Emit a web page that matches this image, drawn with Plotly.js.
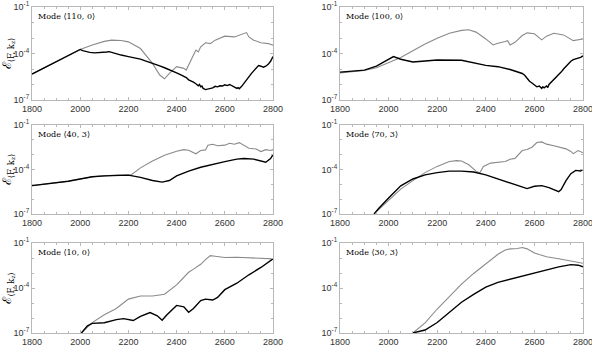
<!DOCTYPE html>
<html><head><meta charset="utf-8">
<script src="https://cdn.plot.ly/plotly-3.0.1.min.js"></script>
<style>html,body{margin:0;padding:0;background:#fff}#chart{width:592px;height:352px}</style>
</head><body><div id="chart"></div>
<script>
// Panel titles
const modes = ['Mode ⟨110, 0⟩','Mode ⟨100, 0⟩','Mode ⟨40, 3⟩','Mode ⟨70, 3⟩','Mode ⟨10, 0⟩','Mode ⟨30, 3⟩'];
// Values are log10 of the energy
const p1GrayX = [1800,1900,2000,2050,2100,2130,2170,2200,2250,2300,2330,2350,2370,2400,2430,2440,2460,2480,2490,2500,2520,2540,2560,2600,2640,2680,2690,2700,2720,2750,2780,2800];
const p1GrayY = [-5.33,-4.53,-3.74,-3.45,-3.22,-3.14,-3.16,-3.25,-3.68,-4.64,-5.39,-5.63,-5.28,-4.85,-4.96,-5.07,-4.43,-3.78,-3.9,-3.57,-3.31,-3.36,-3.14,-2.88,-2.93,-2.71,-2.65,-2.93,-3.14,-3.31,-3.36,-3.46];
const p1BlackX = [1800,1900,2000,2010,2020,2040,2060,2080,2100,2110,2120,2130,2150,2170,2200,2230,2250,2270,2300,2330,2350,2380,2400,2420,2440,2450,2460,2470,2480,2490,2495,2500,2505,2510,2520,2530,2540,2550,2560,2570,2580,2590,2600,2610,2620,2630,2640,2650,2655,2660,2670,2680,2690,2700,2710,2720,2730,2740,2750,2760,2770,2780,2790,2800];
const p1BlackY = [-5.33,-4.53,-3.74,-3.82,-3.86,-3.93,-3.96,-3.95,-3.93,-3.9,-3.88,-3.93,-4.0,-4.1,-4.2,-4.28,-4.36,-4.48,-4.62,-4.8,-4.92,-5.1,-5.25,-5.4,-5.55,-5.7,-5.75,-5.85,-5.95,-6.08,-6.0,-6.15,-6.1,-6.25,-6.33,-6.3,-6.25,-6.22,-6.12,-6.15,-6.08,-6.1,-6.02,-6.07,-6.0,-6.1,-6.18,-6.25,-6.2,-6.28,-6.12,-5.9,-5.7,-5.5,-5.3,-5.12,-4.95,-4.78,-4.82,-4.88,-4.82,-4.7,-4.5,-4.2];
const p2GrayX = [1800,1900,1950,2000,2050,2100,2150,2200,2250,2300,2330,2360,2400,2430,2450,2480,2490,2500,2520,2550,2570,2600,2630,2650,2680,2720,2760,2800];
const p2GrayY = [-5.25,-5.1,-4.92,-4.59,-4.26,-3.82,-3.39,-3.02,-2.69,-2.51,-2.47,-2.62,-3.06,-3.45,-3.34,-3.23,-3.17,-3.45,-3.28,-2.84,-2.67,-2.73,-3.12,-2.88,-2.69,-2.8,-3.17,-3.06];
const p2BlackX = [1800,1900,1950,2000,2020,2050,2100,2150,2200,2300,2350,2400,2450,2500,2550,2560,2570,2580,2590,2600,2610,2620,2630,2635,2640,2650,2655,2660,2670,2680,2690,2700,2710,2720,2730,2740,2750,2760,2770,2780,2790,2800];
const p2BlackY = [-5.2,-5.07,-4.81,-4.37,-4.2,-4.37,-4.55,-4.48,-4.42,-4.44,-4.59,-4.77,-4.85,-5.03,-5.29,-5.4,-5.6,-5.79,-5.9,-6.05,-6.15,-6.1,-6.25,-6.15,-6.22,-6.1,-6.2,-6.0,-5.85,-5.7,-5.55,-5.36,-5.2,-5.0,-4.81,-4.65,-4.5,-4.4,-4.35,-4.3,-4.25,-4.15];
const p3GrayX = [1800,1900,1950,2000,2050,2100,2150,2210,2250,2300,2350,2400,2430,2450,2480,2500,2520,2530,2550,2570,2600,2620,2640,2660,2680,2700,2730,2750,2770,2790,2800];
const p3GrayY = [-5.09,-4.91,-4.79,-4.64,-4.49,-4.43,-4.38,-4.38,-3.89,-3.43,-3.04,-2.77,-2.66,-2.7,-2.94,-2.72,-2.68,-2.36,-2.3,-2.4,-2.36,-2.23,-2.3,-2.19,-2.4,-2.57,-2.62,-2.79,-2.66,-2.72,-2.66];
const p3BlackX = [1800,1900,1950,2000,2050,2100,2150,2200,2250,2300,2340,2370,2400,2450,2500,2550,2600,2650,2680,2720,2750,2770,2790,2800];
const p3BlackY = [-5.09,-4.91,-4.79,-4.64,-4.49,-4.43,-4.38,-4.38,-4.53,-4.74,-4.85,-4.74,-4.43,-4.11,-3.85,-3.64,-3.47,-3.3,-3.26,-3.3,-3.43,-3.51,-3.26,-3.0];
const p4GrayX = [1950,2000,2050,2100,2150,2200,2250,2280,2300,2330,2360,2375,2390,2420,2450,2480,2500,2520,2550,2570,2590,2610,2630,2650,2680,2700,2730,2750,2760,2780,2800];
const p4GrayY = [-6.83,-6.07,-5.32,-4.75,-4.21,-3.79,-3.46,-3.4,-3.43,-3.68,-4.11,-4.24,-3.79,-3.57,-3.51,-3.46,-3.31,-3.25,-2.72,-2.65,-2.5,-2.18,-2.14,-2.29,-2.4,-2.5,-2.61,-2.78,-2.93,-2.72,-2.87];
const p4BlackX = [1940,1960,2000,2050,2100,2150,2200,2250,2300,2350,2400,2450,2500,2550,2570,2600,2630,2660,2690,2700,2710,2730,2750,2770,2790,2800];
const p4BlackY = [-7.0,-6.61,-5.92,-5.1,-4.64,-4.36,-4.21,-4.11,-4.11,-4.17,-4.36,-4.64,-4.92,-5.22,-5.29,-5.13,-5.09,-5.22,-5.43,-5.5,-5.35,-4.75,-4.28,-4.06,-4.1,-4.0];
const p5GrayX = [2005,2050,2100,2150,2200,2250,2300,2350,2400,2450,2470,2500,2520,2540,2560,2600,2650,2700,2750,2780,2800];
const p5GrayY = [-7.0,-6.31,-5.79,-5.37,-4.74,-4.53,-4.53,-4.42,-3.79,-2.95,-2.74,-2.42,-2.11,-1.84,-1.88,-1.97,-1.95,-1.99,-1.99,-2.01,-2.06];
const p5BlackX = [2005,2030,2050,2100,2150,2180,2220,2250,2290,2320,2340,2360,2400,2430,2450,2470,2500,2520,2550,2570,2600,2650,2700,2750,2800];
const p5BlackY = [-7.0,-6.52,-6.36,-6.32,-6.11,-6.04,-6.17,-5.89,-5.64,-5.85,-6.15,-5.79,-5.16,-5.26,-5.62,-5.37,-4.84,-4.74,-4.8,-4.63,-4.11,-3.68,-3.12,-2.63,-2.06];
const p6GrayX = [2100,2150,2200,2250,2300,2350,2400,2450,2480,2500,2530,2550,2570,2600,2620,2650,2700,2750,2800];
const p6GrayY = [-7.0,-6.32,-5.4,-4.54,-3.74,-3.03,-2.39,-1.75,-1.47,-1.39,-1.37,-1.3,-1.39,-1.66,-1.77,-1.92,-2.05,-2.2,-2.35];
const p6BlackX = [2100,2150,2200,2250,2300,2350,2400,2450,2500,2550,2600,2650,2700,2750,2780,2800];
const p6BlackY = [-7.0,-6.8,-6.3,-5.6,-4.95,-4.42,-3.94,-3.62,-3.41,-3.19,-2.98,-2.76,-2.59,-2.44,-2.48,-2.59];

const grayX = [p1GrayX,p2GrayX,p3GrayX,p4GrayX,p5GrayX,p6GrayX];
const grayY = [p1GrayY,p2GrayY,p3GrayY,p4GrayY,p5GrayY,p6GrayY];
const blackX = [p1BlackX,p2BlackX,p3BlackX,p4BlackX,p5BlackX,p6BlackX];
const blackY = [p1BlackY,p2BlackY,p3BlackY,p4BlackY,p5BlackY,p6BlackY];

const xTicks = [1800,2000,2200,2400,2600,2800];
const yTicks = [1e-7,1e-4,1e-1];
const yTickText = ['10<sup>-7</sup>','10<sup>-4</sup>','10<sup>-1</sup>'];

const W = 592, H = 352;
const colX = [[32,273],[340,583]];
const rowY = [[7,100],[125,214],[243,333]];

const traces = [];
const layout = {
  width: W, height: H, margin:{l:0,r:0,t:0,b:0},
  paper_bgcolor:'#fff', plot_bgcolor:'#fff', showlegend:false,
  annotations: []
};
const frameColor = '#b8b8b8';
const tickFont = {family:'Liberation Sans, Arial, sans-serif', size:9, color:'#333'};
for (let i=0;i<6;i++){
  const c = i%2, r = Math.floor(i/2);
  const n = i===0 ? '' : String(i+1);
  const xa = 'x'+n, ya = 'y'+n;
  traces.push({x:grayX[i], y:grayY[i].map(v=>Math.pow(10,v)), xaxis:xa, yaxis:ya, mode:'lines', line:{color:'#8a8a8a', width:1.1}, hoverinfo:'skip'});
  traces.push({x:blackX[i], y:blackY[i].map(v=>Math.pow(10,v)), xaxis:xa, yaxis:ya, mode:'lines', line:{color:'#000', width:1.4}, hoverinfo:'skip'});
  layout['xaxis'+n] = {
    domain:[colX[c][0]/W, colX[c][1]/W], anchor:ya, range:[1800,2800],
    tickvals:xTicks, ticks:'inside', ticklen:3, tickcolor:frameColor, tickfont:tickFont, ticklabeloverflow:'allow',
    showline:true, linecolor:frameColor, linewidth:1, mirror:'ticks', showgrid:false, zeroline:false,
    minor:{tickvals:[1850,1900,1950,2050,2100,2150,2250,2300,2350,2450,2500,2550,2650,2700,2750], ticks:'inside', ticklen:2, tickcolor:frameColor}
  };
  layout['yaxis'+n] = {
    domain:[1-rowY[r][1]/H, 1-rowY[r][0]/H], anchor:xa, type:'log', range:[-7,-1],
    tickvals:yTicks, ticktext:yTickText, ticks:'inside', ticklen:3, tickcolor:frameColor, tickfont:tickFont, ticklabeloverflow:'allow',
    showline:true, linecolor:frameColor, linewidth:1, mirror:'ticks', showgrid:false, zeroline:false,
    minor:{tickvals:[1e-6,1e-5,1e-3,1e-2], ticks:'inside', ticklen:2, tickcolor:frameColor}
  };
  if (c===0) {
    layout['yaxis'+n].title = {text:'ℰ<sub>⟨F, k<sub>z</sub>⟩</sub>', font:{family:'DejaVu Serif, serif', size:12, color:'#000'}, standoff:5};
  }
  layout.annotations.push({xref:'paper', yref:'paper', x:(colX[c][0]+4)/W, y:1-(rowY[r][0]+3)/H, xanchor:'left', yanchor:'top', showarrow:false, text:modes[i], font:{family:'DejaVu Serif, serif', size:8, color:'#000'}});
}
Plotly.newPlot('chart', traces, layout, {displayModeBar:false, staticPlot:true});
</script></body></html>
